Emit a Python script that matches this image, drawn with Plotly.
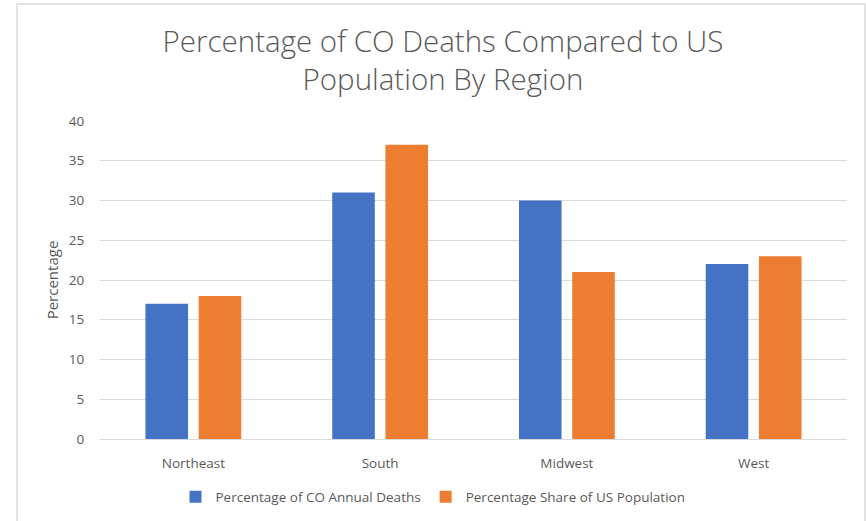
import plotly.graph_objects as go

# Regions and the two percentage series
regions = ["Northeast", "South", "Midwest", "West"]
co_deaths_pct = [17, 31, 30, 22]
population_pct = [18, 37, 21, 23]
y_ticks = [0, 5, 10, 15, 20, 25, 30, 35, 40]

BLUE = "#4472C4"
ORANGE = "#ED7D31"
TEXT = "#595959"
GRID = "#D9D9D9"

W, H = 866, 521
L, R, T, B = 100, 19, 121, 82
plot_w = W - L - R
plot_h = H - T - B


def px_to_paper_x(px):
    return (px - L) / plot_w


def px_to_paper_y(py):
    return (H - B - py) / plot_h


fig = go.Figure()
fig.add_trace(go.Bar(
    name="Percentage of CO Annual Deaths",
    x=regions, y=co_deaths_pct,
    marker=dict(color=BLUE, line=dict(width=0)),
))
fig.add_trace(go.Bar(
    name="Percentage Share of US Population",
    x=regions, y=population_pct,
    marker=dict(color=ORANGE, line=dict(width=0)),
))

fig.update_layout(
    width=W, height=H,
    margin=dict(l=L, r=R, t=T, b=B, autoexpand=False),
    paper_bgcolor="white",
    plot_bgcolor="white",
    barmode="group",
    bargap=0.43,
    bargroupgap=0.2,
    font=dict(family="Open Sans", color=TEXT, size=13),
    title=dict(
        text="Percentage of CO Deaths Compared to US<br>Population By Region",
        x=443 / W, xanchor="center",
        y=1 - 52 / H, yanchor="middle",
        font=dict(family="Open Sans", size=29.5, color=TEXT, weight=300),
    ),
    legend=dict(
        orientation="h",
        x=0.5, xanchor="center", xref="container",
        y=1 - 497 / H, yanchor="middle", yref="container",
        font=dict(size=13.5, color=TEXT),
        itemwidth=30,
        traceorder="normal",
    ),
    xaxis=dict(
        showgrid=False,
        showline=False,
        ticks="outside",
        ticklen=12,
        tickcolor="rgba(0,0,0,0)",
        tickfont=dict(size=13.5, color=TEXT),
    ),
    yaxis=dict(
        range=[0, 40],
        tickvals=y_ticks,
        showgrid=True,
        gridcolor=GRID,
        gridwidth=1,
        zeroline=True,
        zerolinecolor=GRID,
        zerolinewidth=1,
        showline=False,
        ticks="outside",
        ticklen=12,
        tickcolor="rgba(0,0,0,0)",
        tickfont=dict(size=13.5, color=TEXT),
        title=dict(text="Percentage", font=dict(size=15, color=TEXT), standoff=6),
    ),
    shapes=[
        dict(
            type="rect", xref="paper", yref="paper",
            x0=px_to_paper_x(17), x1=px_to_paper_x(865),
            y0=px_to_paper_y(530), y1=px_to_paper_y(4),
            line=dict(color=GRID, width=1.5),
            fillcolor="rgba(0,0,0,0)",
            layer="below",
        )
    ],
)

fig.write_html("out.html")
